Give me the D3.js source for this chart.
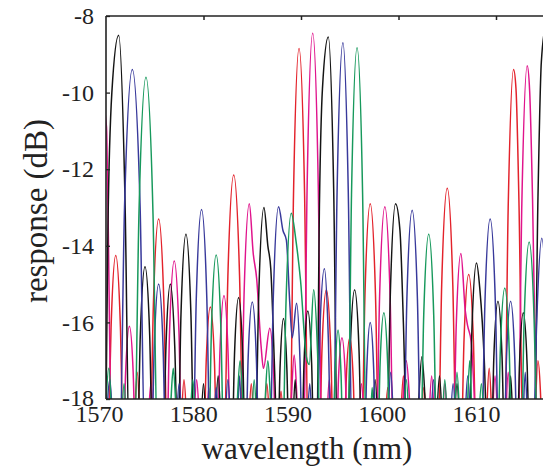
<!DOCTYPE html>
<html>
<head>
<meta charset="utf-8">
<script src="https://cdn.jsdelivr.net/npm/d3@7"></script>
<style>
  html, body { margin: 0; padding: 0; background: #fff; }
  svg { display: block; }
  text { font-family: "Liberation Serif", "Times New Roman", serif; fill: #222; }
</style>
</head>
<body>
<svg id="chart" width="543" height="469"></svg>
<script>
// ---------- data (wavelength nm, response dB) ----------
const xTicks = [1570, 1580, 1590, 1600, 1610];
const yTicks = [-8, -10, -12, -14, -16, -18];

const redSeries = [
  [1570.2,-19.5],[1570.52,-16.14],[1571.0,-14.25],[1571.48,-16.14],[1571.8,-19.5],
  [1572.7,-19.5],[1573.2,-17.3],[1573.7,-19.5],
  [1574.5,-19.5],[1574.86,-15.53],[1575.4,-13.3],[1575.94,-15.53],[1576.3,-19.5],
  [1577.5,-19.5],[1578.0,-17.5],[1578.5,-19.5],
  [1580.0,-19.5],[1580.28,-17.0],[1580.7,-15.6],[1581.12,-17.0],[1581.4,-19.5],
  [1582.1,-19.5],[1582.5,-14.8],[1583.1,-12.15],[1583.7,-14.8],[1584.1,-19.5],
  [1584.45,-19.5],[1584.9,-17.6],[1585.35,-19.5],
  [1586.0,-19.5],[1586.5,-17.6],[1587.0,-19.5],
  [1587.5,-19.5],[1587.95,-17.8],[1588.4,-19.5],
  [1588.85,-19.5],[1589.23,-12.68],[1589.8,-8.85],[1590.37,-12.68],[1590.75,-19.5],
  [1591.85,-19.5],[1592.15,-16.72],[1592.6,-15.15],[1593.05,-16.72],[1593.35,-19.5],
  [1594.4,-19.5],[1594.64,-17.5],[1595.0,-16.4],[1595.36,-17.5],[1595.6,-19.5],
  [1596.2,-19.5],[1596.56,-15.28],[1597.1,-12.9],[1597.64,-15.28],[1598.0,-19.5],
  [1598.4,-19.5],[1598.9,-17.7],[1599.4,-19.5],
  [1600.0,-19.5],[1600.5,-17.4],[1601.0,-19.5],
  [1602.1,-19.5],[1602.6,-17.7],[1603.1,-19.5],
  [1604.05,-19.5],[1604.43,-15.02],[1605.0,-12.5],[1605.57,-15.02],[1605.95,-19.5],
  [1606.4,-19.5],[1606.72,-16.46],[1607.2,-14.75],[1607.68,-16.46],[1608.0,-19.5],
  [1608.8,-19.5],[1609.3,-17.2],[1609.8,-19.5],
  [1610.85,-19.5],[1611.25,-13.0],[1611.8,-9.4],[1612.05,-9.9],[1612.35,-12.8],[1612.8,-19.5],
  [1613.8,-19.5],[1614.3,-17.0],[1614.8,-19.5]
];

const magentaSeries = [
  [1568.7,-19.5],[1569.1,-13.8],[1569.6,-10.2],[1570.05,-10.9],[1570.2,-13.0],[1570.6,-19.5],
  [1571.75,-19.5],[1572.01,-17.32],[1572.4,-16.1],[1572.79,-17.32],[1573.05,-19.5],
  [1574.1,-19.5],[1574.6,-17.6],[1575.1,-19.5],
  [1576.2,-19.5],[1576.52,-16.24],[1577.0,-14.4],[1577.48,-16.24],[1577.8,-19.5],
  [1578.8,-19.5],[1579.3,-17.5],[1579.8,-19.5],
  [1580.1,-19.5],[1580.55,-17.7],[1581.0,-19.5],
  [1581.4,-19.5],[1581.68,-16.81],[1582.1,-15.3],[1582.52,-16.81],[1582.8,-19.5],
  [1583.8,-19.5],[1584.16,-15.28],[1584.7,-12.9],[1585.1,-14.2],[1585.45,-14.85],[1585.9,-16.6],[1586.15,-17.2],[1586.8,-16.15],[1587.2,-17.4],[1587.45,-19.5],
  [1588.8,-19.5],[1589.05,-17.8],[1589.3,-16.85],[1589.55,-17.8],[1589.8,-19.5],
  [1590.25,-19.5],[1590.63,-12.43],[1591.2,-8.45],[1591.77,-12.43],[1592.15,-19.5],
  [1592.45,-19.5],[1592.9,-17.5],[1593.3,-19.5],
  [1593.6,-19.5],[1593.84,-17.5],[1594.2,-16.4],[1594.56,-17.5],[1594.8,-19.5],
  [1595.7,-19.5],[1596.2,-17.6],[1596.7,-19.5],
  [1597.7,-19.5],[1598.06,-15.33],[1598.6,-12.98],[1599.14,-15.33],[1599.5,-19.5],
  [1600.25,-19.5],[1600.5,-17.9],[1600.8,-17.0],[1601.1,-17.9],[1601.35,-19.5],
  [1602.9,-19.5],[1603.4,-17.4],[1603.9,-19.5],
  [1604.3,-19.5],[1604.75,-17.6],[1605.2,-19.5],
  [1605.6,-19.5],[1605.92,-16.1],[1606.4,-14.2],[1606.85,-15.7],[1607.1,-16.1],[1607.45,-16.5],[1607.75,-17.8],[1608.0,-19.5],
  [1609.4,-19.5],[1609.9,-17.4],[1610.4,-19.5],
  [1610.8,-19.5],[1611.25,-17.3],[1611.7,-19.5],
  [1612.25,-19.5],[1612.65,-12.9],[1613.2,-9.3],[1613.45,-9.95],[1613.75,-12.8],[1614.2,-19.5]
];

const blackSeries = [
  [1569.95,-19.5],[1570.2,-13.5],[1570.6,-10.0],[1571.3,-8.5],[1571.95,-12.8],[1572.4,-19.5],
  [1573.2,-19.5],[1573.52,-16.33],[1574.0,-14.55],[1574.48,-16.33],[1574.8,-19.5],
  [1575.85,-19.5],[1576.15,-16.62],[1576.6,-15.0],[1577.05,-16.62],[1577.38,-19.5],
  [1577.69,-15.79],[1578.2,-13.7],[1578.71,-15.79],[1579.05,-19.5],
  [1579.55,-19.5],[1580.0,-17.6],[1580.45,-19.5],
  [1581.0,-19.5],[1581.5,-17.4],[1582.0,-19.5],
  [1582.9,-19.5],[1583.18,-16.84],[1583.6,-15.35],[1584.02,-16.84],[1584.3,-19.5],
  [1585.3,-19.5],[1585.66,-15.34],[1586.2,-13.0],[1586.6,-14.0],[1586.9,-14.6],[1587.3,-17.3],[1587.6,-19.5],
  [1587.85,-17.2],[1588.2,-15.9],[1588.55,-17.2],[1588.8,-19.5],
  [1589.0,-19.5],[1589.4,-17.5],[1589.8,-19.5],
  [1590.05,-19.5],[1590.31,-17.07],[1590.7,-15.7],[1591.09,-17.07],[1591.35,-19.5],
  [1591.6,-19.5],[1591.9,-12.8],[1592.2,-9.9],[1592.8,-8.55],[1593.35,-12.5],[1593.75,-19.5],
  [1594.75,-19.5],[1595.05,-16.72],[1595.5,-15.15],[1595.95,-16.72],[1596.25,-19.5],
  [1597.1,-19.5],[1597.6,-17.5],[1598.1,-19.5],
  [1598.8,-19.5],[1599.16,-15.28],[1599.7,-12.9],[1600.15,-13.6],[1600.5,-16.0],[1600.9,-19.5],
  [1601.85,-19.5],[1602.1,-17.9],[1602.4,-16.9],[1602.7,-17.9],[1602.95,-19.5],
  [1603.7,-19.5],[1604.2,-17.4],[1604.7,-19.5],
  [1605.5,-19.5],[1606.0,-17.6],[1606.5,-19.5],
  [1607.2,-19.5],[1607.52,-16.27],[1608.0,-14.45],[1608.35,-15.15],[1608.8,-17.0],[1609.15,-19.5],
  [1609.5,-19.5],[1609.78,-16.9],[1610.2,-15.45],[1610.62,-16.9],[1610.9,-19.5],
  [1611.1,-19.5],[1611.5,-17.4],[1611.9,-19.5],
  [1612.15,-19.5],[1612.41,-17.1],[1612.8,-15.75],[1613.19,-17.1],[1613.45,-19.5],
  [1613.9,-19.5],[1614.3,-12.8],[1614.65,-9.2],[1615.1,-8.3],[1616.2,-19.5]
];

const blueSeries = [
  [1569.9,-19.5],[1570.4,-17.5],[1570.9,-19.5],
  [1571.4,-19.5],[1571.9,-13.0],[1572.7,-9.4],[1573.5,-13.0],[1574.0,-19.5],
  [1574.65,-19.5],[1574.95,-16.62],[1575.4,-15.0],[1575.85,-16.62],[1576.15,-19.5],
  [1577.0,-19.5],[1577.5,-17.6],[1578.0,-19.5],
  [1578.9,-19.5],[1579.26,-15.37],[1579.8,-13.05],[1580.34,-15.37],[1580.7,-19.5],
  [1580.9,-19.5],[1581.3,-17.7],[1581.7,-19.5],
  [1582.0,-19.5],[1582.5,-17.5],[1583.0,-19.5],
  [1583.3,-19.5],[1583.7,-17.4],[1584.05,-19.5],
  [1584.3,-19.5],[1584.58,-16.92],[1585.0,-15.47],[1585.42,-16.92],[1585.7,-19.5],
  [1586.8,-19.5],[1587.16,-15.33],[1587.7,-12.98],[1588.15,-13.6],[1588.5,-13.85],[1588.85,-15.5],[1589.1,-16.4],[1589.55,-15.5],[1589.9,-17.0],[1590.15,-19.5],
  [1590.45,-19.5],[1590.9,-17.6],[1591.3,-19.5],
  [1591.6,-19.5],[1591.92,-16.36],[1592.4,-14.6],[1592.8,-16.4],[1593.1,-19.5],
  [1593.3,-19.5],[1593.7,-12.6],[1594.3,-8.7],[1594.85,-12.6],[1595.25,-19.5],
  [1596.5,-19.5],[1596.74,-17.26],[1597.1,-16.0],[1597.46,-17.26],[1597.7,-19.5],
  [1598.7,-19.5],[1599.2,-17.3],[1599.7,-19.5],
  [1600.5,-19.5],[1600.86,-15.38],[1601.4,-13.07],[1601.94,-15.38],[1602.3,-19.5],
  [1603.1,-19.5],[1603.6,-17.5],[1604.1,-19.5],
  [1605.1,-19.5],[1605.6,-17.6],[1606.1,-19.5],
  [1606.6,-19.5],[1607.1,-17.4],[1607.6,-19.5],
  [1608.5,-19.5],[1608.86,-15.53],[1609.4,-13.3],[1609.94,-15.53],[1610.3,-19.5],
  [1610.8,-19.5],[1611.08,-16.9],[1611.5,-15.45],[1611.92,-16.9],[1612.2,-19.5],
  [1612.6,-19.5],[1613.0,-17.3],[1613.4,-19.5],
  [1613.8,-19.5],[1614.16,-16.1],[1614.7,-13.8],[1615.24,-16.1],[1615.6,-19.5]
];

const greenSeries = [
  [1569.8,-19.5],[1570.3,-17.2],[1570.8,-19.5],
  [1571.4,-19.5],[1571.85,-17.6],[1572.3,-19.5],
  [1572.9,-19.5],[1573.38,-13.16],[1574.1,-9.6],[1574.82,-13.16],[1575.3,-19.5],
  [1576.4,-19.5],[1576.65,-18.1],[1576.9,-17.2],[1577.15,-18.1],[1577.4,-19.5],
  [1578.4,-19.5],[1578.9,-17.5],[1579.4,-19.5],
  [1580.5,-19.5],[1580.82,-16.13],[1581.3,-14.24],[1581.78,-16.13],[1582.1,-19.5],
  [1583.25,-19.5],[1583.5,-17.9],[1583.75,-17.0],[1584.0,-17.9],[1584.25,-19.5],
  [1584.75,-19.5],[1585.2,-17.5],[1585.65,-19.5],
  [1586.1,-19.5],[1586.35,-17.9],[1586.6,-17.0],[1586.85,-17.9],[1587.1,-19.5],
  [1588.1,-19.5],[1588.46,-15.5],[1589.0,-13.15],[1589.5,-13.9],[1589.95,-14.9],[1590.55,-16.9],[1590.85,-17.1],[1591.3,-15.15],[1591.7,-16.8],[1592.0,-19.5],
  [1593.25,-19.5],[1593.5,-17.3],[1593.8,-16.2],[1594.1,-17.3],[1594.35,-19.5],
  [1594.8,-19.5],[1595.18,-12.67],[1595.75,-8.83],[1596.32,-12.67],[1596.7,-19.5],
  [1596.95,-19.5],[1597.3,-17.7],[1597.65,-19.5],
  [1597.85,-19.5],[1598.11,-17.1],[1598.5,-15.75],[1598.89,-17.1],[1599.15,-19.5],
  [1600.3,-19.5],[1600.8,-17.5],[1601.3,-19.5],
  [1602.25,-19.5],[1602.59,-15.79],[1603.1,-13.7],[1603.61,-15.79],[1603.95,-19.5],
  [1604.3,-19.5],[1604.75,-17.5],[1605.2,-19.5],
  [1605.5,-19.5],[1606.0,-17.3],[1606.5,-19.5],
  [1606.85,-19.5],[1607.3,-17.0],[1607.7,-19.5],
  [1608.0,-19.5],[1608.5,-17.6],[1609.0,-19.5],
  [1610.15,-19.5],[1610.45,-16.68],[1610.9,-15.1],[1611.35,-16.68],[1611.65,-19.5],
  [1612.55,-19.5],[1612.89,-15.92],[1613.4,-13.9],[1613.91,-15.92],[1614.25,-19.5]
];

const seriesList = [
  { name: "red", color: "#e3222b", data: redSeries },
  { name: "magenta", color: "#e0148c", data: magentaSeries },
  { name: "black", color: "#141414", data: blackSeries },
  { name: "blue", color: "#38399b", data: blueSeries },
  { name: "green", color: "#17995c", data: greenSeries }
];

// ---------- layout ----------
const svg = d3.select("#chart");
const plotLeft = 106, plotTop = 16, plotBottom = 399, plotRight = 543;

const x = d3.scaleLinear().domain([1570, 1610]).range([plotLeft, 496]);
const xLabel = d3.scaleLinear().domain([1570, 1610]).range([99, 476]);
const y = d3.scaleLinear().domain([-18, -8]).range([plotBottom, plotTop]);

svg.append("defs").append("clipPath").attr("id", "clip")
  .append("rect")
  .attr("x", plotLeft).attr("y", plotTop)
  .attr("width", plotRight - plotLeft).attr("height", plotBottom - plotTop);

const line = d3.line()
  .x(d => x(d[0]))
  .y(d => y(d[1]))
  .curve(d3.curveMonotoneX);

const gLines = svg.append("g").attr("clip-path", "url(#clip)");
seriesList.forEach(s => {
  gLines.append("path")
    .datum(s.data)
    .attr("fill", "none")
    .attr("stroke", s.color)
    .attr("stroke-width", 1.5)
    .attr("stroke-linejoin", "round")
    .attr("d", line);
});

// ---------- axes ----------
const axisColor = "#222";
const yAxis = svg.append("g")
  .attr("transform", `translate(${plotLeft},0)`)
  .call(d3.axisLeft(y).tickValues(yTicks).tickFormat(d => String(d)).tickSize(-4).tickPadding(12));
yAxis.select(".domain").remove();
yAxis.selectAll("line").attr("stroke", axisColor).attr("stroke-width", 1.3);
yAxis.selectAll("text").attr("font-size", 24).attr("font-family", "Liberation Serif").attr("fill", "#222");
yAxis.selectAll(".tick").filter(d => d === -18).select("text").attr("dy", "0.25em");

const topAxis = svg.append("g")
  .attr("transform", `translate(0,${plotTop})`)
  .call(d3.axisTop(x).tickValues(xTicks.slice(1)).tickFormat("").tickSize(-4));
topAxis.select(".domain").remove();
topAxis.selectAll("line").attr("stroke", axisColor).attr("stroke-width", 1.5);

const bottomLabels = svg.append("g")
  .attr("transform", `translate(0,${plotBottom})`)
  .call(d3.axisBottom(xLabel).tickValues(xTicks).tickFormat(d => String(d)).tickSize(0).tickPadding(6));
bottomLabels.select(".domain").remove();
bottomLabels.selectAll("text").attr("font-size", 24).attr("font-family", "Liberation Serif").attr("fill", "#222");

svg.append("line").attr("x1", plotLeft).attr("x2", plotRight).attr("y1", plotTop).attr("y2", plotTop)
  .attr("stroke", axisColor).attr("stroke-width", 1.6);
svg.append("line").attr("x1", plotLeft).attr("x2", plotRight).attr("y1", plotBottom).attr("y2", plotBottom)
  .attr("stroke", axisColor).attr("stroke-width", 1.6);
svg.append("line").attr("x1", plotLeft).attr("x2", plotLeft).attr("y1", plotTop).attr("y2", plotBottom)
  .attr("stroke", axisColor).attr("stroke-width", 1.6);

svg.append("text")
  .attr("x", 307).attr("y", 459)
  .attr("text-anchor", "middle")
  .attr("font-size", 31)
  .text("wavelength (nm)");

svg.append("text")
  .attr("transform", "translate(47,211) rotate(-90)")
  .attr("text-anchor", "middle")
  .attr("font-size", 33)
  .text("response (dB)");
</script>
</body>
</html>
